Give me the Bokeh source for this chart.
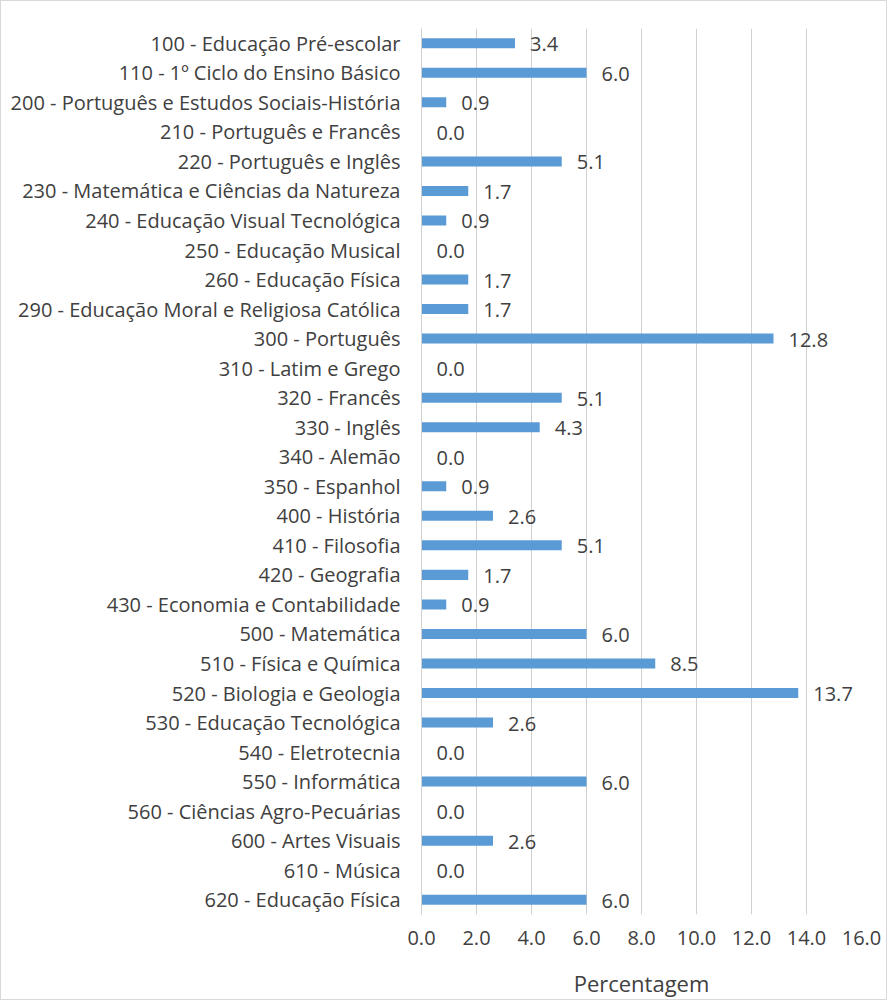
from bokeh.plotting import figure
from bokeh.models import FactorRange, Range1d, FixedTicker, CustomJSTickFormatter, ColumnDataSource, LabelSet
from bokeh.core.properties import value
from bokeh.embed import file_html
from bokeh.resources import INLINE

categories = [
    "100 - Educação Pré-escolar",
    "110 - 1º Ciclo do Ensino Básico",
    "200 - Português e Estudos Sociais-História",
    "210 - Português e Francês",
    "220 - Português e Inglês",
    "230 - Matemática e Ciências da Natureza",
    "240 - Educação Visual Tecnológica",
    "250 - Educação Musical",
    "260 - Educação Física",
    "290 - Educação Moral e Religiosa Católica",
    "300 - Português",
    "310 - Latim e Grego",
    "320 - Francês",
    "330 - Inglês",
    "340 - Alemão",
    "350 - Espanhol",
    "400 - História",
    "410 - Filosofia",
    "420 - Geografia",
    "430 - Economia e Contabilidade",
    "500 - Matemática",
    "510 - Física e Química",
    "520 - Biologia e Geologia",
    "530 - Educação Tecnológica",
    "540 - Eletrotecnia",
    "550 - Informática",
    "560 - Ciências Agro-Pecuárias",
    "600 - Artes Visuais",
    "610 - Música",
    "620 - Educação Física",
]
values = [3.4, 6.0, 0.9, 0.0, 5.1, 1.7, 0.9, 0.0, 1.7, 1.7,
          12.8, 0.0, 5.1, 4.3, 0.0, 0.9, 2.6, 5.1, 1.7, 0.9,
          6.0, 8.5, 13.7, 2.6, 0.0, 6.0, 0.0, 2.6, 0.0, 6.0]
x_ticks = [0, 2, 4, 6, 8, 10, 12, 14, 16]
x_label = "Percentagem"

FONT = "Open Sans"
FS = "20px"
TXT = "#404040"
GRID = "#d0d0d0"
BAR = "#5b9bd5"

src = ColumnDataSource(dict(
    cat=categories,
    val=values,
    lab=["%.1f" % v for v in values],
))

p = figure(
    width=887, height=1000,
    y_range=FactorRange(factors=list(reversed(categories)), range_padding=0),
    x_range=Range1d(0, 16),
    output_backend="svg", toolbar_location=None,
    min_border_left=420, min_border_right=27,
    min_border_top=27, min_border_bottom=87,
)
p.outline_line_color = None
p.background_fill_color = "white"
p.border_fill_color = "white"

p.hbar(y="cat", right="val", left=0, height=0.34, source=src,
       fill_color=BAR, line_color=None)

labels = LabelSet(x="val", y="cat", text="lab", source=src,
                  x_offset=15, y_offset=-1,
                  text_font=value(FONT), text_font_size=FS,
                  text_color=TXT, text_baseline="middle", text_align="left")
p.add_layout(labels)

# x axis
p.xaxis.ticker = FixedTicker(ticks=x_ticks)
p.xaxis.formatter = CustomJSTickFormatter(code="return tick.toFixed(1);")
p.xaxis.axis_line_color = None
p.xaxis.major_tick_line_color = None
p.xaxis.minor_tick_line_color = None
p.xaxis.major_label_text_font = FONT
p.xaxis.major_label_text_font_size = FS
p.xaxis.major_label_text_color = TXT
p.xaxis.major_label_standoff = 10
p.xaxis.axis_label = x_label
p.xaxis.axis_label_text_font = FONT
p.xaxis.axis_label_text_font_size = "22px"
p.xaxis.axis_label_text_font_style = "normal"
p.xaxis.axis_label_text_color = TXT
p.xaxis.axis_label_standoff = 20

# y axis
p.yaxis.axis_line_color = GRID
p.yaxis.major_tick_line_color = None
p.yaxis.minor_tick_line_color = None
p.yaxis.major_label_text_font = FONT
p.yaxis.major_label_text_font_size = FS
p.yaxis.major_label_text_color = TXT
p.yaxis.major_label_standoff = 15

p.xgrid.grid_line_color = GRID
p.xgrid.ticker = FixedTicker(ticks=x_ticks)
p.ygrid.grid_line_color = None

p.styles = {"border": "1px solid #d9d9d9"}

open("out.html", "w").write(file_html(p, INLINE))
